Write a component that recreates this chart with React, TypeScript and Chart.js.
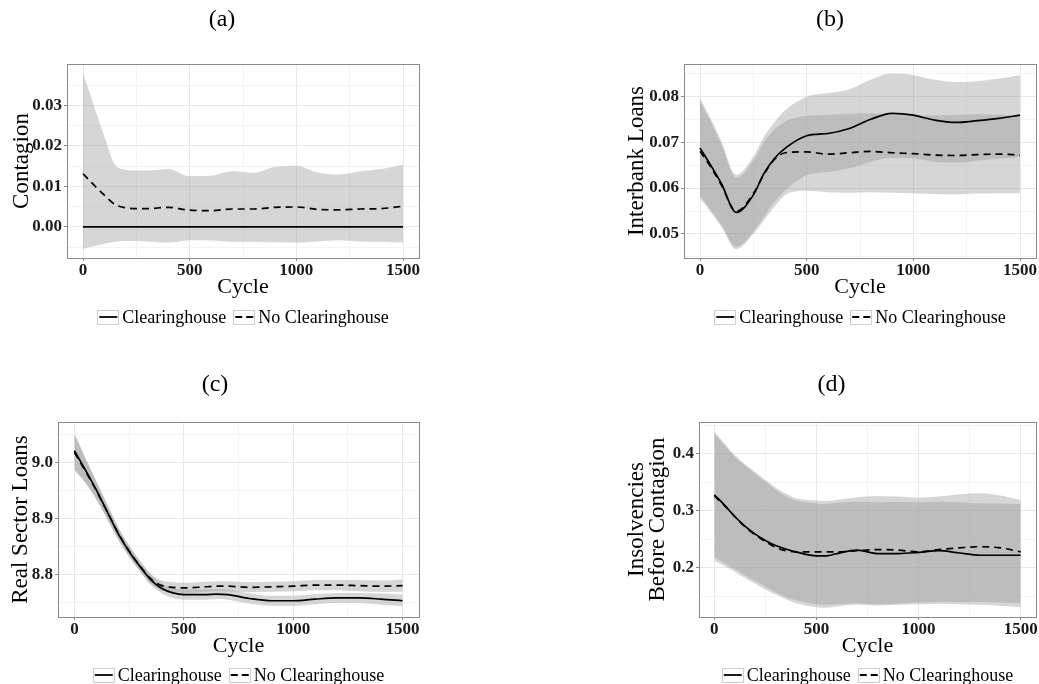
import React, { useEffect, useRef } from 'react';
import { Chart, registerables } from 'chart.js';

Chart.register(...registerables);

const FONT = "'Liberation Serif', 'Times New Roman', serif";
const RIBBON = 'rgba(153, 153, 153, 0.4)';
const GRID_MAJOR = '#E8E8E8';
const GRID_MINOR = '#F4F4F4';
const FRAME = '#8A8A8A';
const X_AXIS_H = 41;

const seriesNames = ['Clearinghouse', 'No Clearinghouse'];

// x axis (Cycle)
const xMajor = [0, 500, 1000, 1500];
const xMinor = [250, 750, 1250];
const xLabels = ['0', '500', '1000', '1500'];

// (a) Contagion
const cyclesA = [0, 50, 100, 150, 200, 250, 300, 400, 500, 600, 700, 800, 900, 1000, 1100, 1200, 1300, 1400, 1500];
const contagionCH = [0, 0, 0, 0, 0, 0, 0, 0, 0, 0, 0, 0, 0, 0, 0, 0, 0, 0, 0];
const contagionCHLow = [0, 0, 0, 0, 0, 0, 0, 0, 0, 0, 0, 0, 0, 0, 0, 0, 0, 0, 0];
const contagionCHHigh = [0, 0, 0, 0, 0, 0, 0, 0, 0, 0, 0, 0, 0, 0, 0, 0, 0, 0, 0];
const contagionNoCH = [0.0131, 0.0104, 0.0078, 0.0055, 0.0047, 0.0045, 0.0045, 0.0048, 0.0041, 0.004, 0.0044, 0.0044, 0.0048, 0.0049, 0.0043, 0.0042, 0.0044, 0.0045, 0.0051];
const contagionNoCHLow = [-0.0054, -0.0048, -0.0042, -0.0037, -0.0035, -0.0035, -0.0036, -0.0039, -0.0033, -0.0034, -0.0037, -0.0037, -0.0038, -0.0039, -0.0036, -0.0033, -0.0036, -0.0037, -0.0039];
const contagionNoCHHigh = [0.0379, 0.0301, 0.0223, 0.0153, 0.0141, 0.0139, 0.0139, 0.0143, 0.0125, 0.0126, 0.0137, 0.0133, 0.0148, 0.0151, 0.0134, 0.0129, 0.0137, 0.0143, 0.0153];
const yMajorA = [0, 0.01, 0.02, 0.03];
const yMinorA = [-0.005, 0.005, 0.015, 0.025, 0.035];
const yLabelsA = ['0.00', '0.01', '0.02', '0.03'];

// (b) Interbank Loans
const cyclesB = [0, 50, 100, 170, 250, 300, 350, 400, 500, 600, 700, 800, 900, 1000, 1100, 1200, 1300, 1400, 1500];
const interbankCH = [0.0687, 0.065, 0.061, 0.0547, 0.0585, 0.0632, 0.0665, 0.0687, 0.0714, 0.0719, 0.073, 0.075, 0.0763, 0.0759, 0.0748, 0.0743, 0.0747, 0.0752, 0.0759];
const interbankCHLow = [0.0583, 0.0553, 0.052, 0.0472, 0.0505, 0.0538, 0.057, 0.0595, 0.0628, 0.0635, 0.0643, 0.0657, 0.0666, 0.0665, 0.0657, 0.0655, 0.066, 0.0664, 0.0668];
const interbankCHHigh = [0.0796, 0.0752, 0.0702, 0.0629, 0.0669, 0.0712, 0.0744, 0.077, 0.0799, 0.0807, 0.0815, 0.0836, 0.085, 0.0846, 0.0836, 0.0831, 0.0833, 0.0839, 0.0846];
const interbankNoCH = [0.068, 0.0646, 0.0607, 0.0549, 0.0588, 0.063, 0.0663, 0.0677, 0.0679, 0.0674, 0.0677, 0.068, 0.0677, 0.0675, 0.0672, 0.0671, 0.0673, 0.0674, 0.0672];
const interbankNoCHLow = [0.0578, 0.0548, 0.0516, 0.0467, 0.05, 0.053, 0.056, 0.0585, 0.0594, 0.0591, 0.059, 0.0591, 0.059, 0.0589, 0.0587, 0.0586, 0.0588, 0.0589, 0.0589];
const interbankNoCHHigh = [0.079, 0.0745, 0.0695, 0.0622, 0.066, 0.07, 0.0728, 0.0745, 0.0757, 0.076, 0.0762, 0.0763, 0.076, 0.0758, 0.0758, 0.076, 0.0761, 0.076, 0.0758];
const yMajorB = [0.05, 0.06, 0.07, 0.08];
const yMinorB = [0.045, 0.055, 0.065, 0.075, 0.085];
const yLabelsB = ['0.05', '0.06', '0.07', '0.08'];

// (c) Real Sector Loans
const cyclesC = [0, 50, 100, 150, 200, 250, 300, 350, 400, 450, 500, 600, 650, 700, 800, 900, 1000, 1100, 1200, 1300, 1400, 1500];
const realCH = [9.021, 8.987, 8.951, 8.912, 8.873, 8.841, 8.814, 8.79, 8.775, 8.767, 8.764, 8.764, 8.765, 8.764, 8.757, 8.753, 8.753, 8.756, 8.758, 8.758, 8.756, 8.753];
const realCHLow = [8.989, 8.965, 8.935, 8.899, 8.862, 8.831, 8.805, 8.781, 8.766, 8.758, 8.755, 8.755, 8.756, 8.755, 8.748, 8.744, 8.744, 8.747, 8.749, 8.749, 8.746, 8.743];
const realCHHigh = [9.053, 9.009, 8.967, 8.925, 8.884, 8.851, 8.823, 8.799, 8.784, 8.776, 8.773, 8.773, 8.774, 8.773, 8.766, 8.762, 8.762, 8.765, 8.767, 8.767, 8.766, 8.764];
const realNoCH = [9.018, 8.985, 8.95, 8.912, 8.874, 8.842, 8.815, 8.792, 8.78, 8.777, 8.776, 8.778, 8.779, 8.779, 8.777, 8.778, 8.779, 8.781, 8.781, 8.78, 8.779, 8.78];
const realNoCHLow = [8.986, 8.963, 8.934, 8.899, 8.863, 8.832, 8.806, 8.783, 8.771, 8.768, 8.767, 8.769, 8.77, 8.77, 8.768, 8.769, 8.77, 8.772, 8.772, 8.77, 8.769, 8.769];
const realNoCHHigh = [9.05, 9.007, 8.966, 8.925, 8.885, 8.852, 8.824, 8.801, 8.789, 8.786, 8.785, 8.787, 8.788, 8.788, 8.786, 8.787, 8.788, 8.79, 8.79, 8.79, 8.789, 8.791];
const yMajorC = [8.8, 8.9, 9.0];
const yMinorC = [8.75, 8.85, 8.95, 9.05];
const yLabelsC = ['8.8', '8.9', '9.0'];

// (d) Insolvencies Before Contagion
const cyclesD = [0, 50, 100, 150, 200, 250, 300, 350, 400, 500, 550, 600, 700, 800, 900, 1000, 1100, 1200, 1300, 1400, 1500];
const insolvCH = [0.328, 0.31, 0.29, 0.273, 0.259, 0.248, 0.239, 0.233, 0.228, 0.221, 0.221, 0.225, 0.231, 0.225, 0.225, 0.227, 0.23, 0.226, 0.222, 0.222, 0.222];
const insolvCHLow = [0.213, 0.203, 0.193, 0.182, 0.172, 0.162, 0.153, 0.145, 0.138, 0.131, 0.13, 0.132, 0.135, 0.134, 0.135, 0.136, 0.137, 0.136, 0.135, 0.133, 0.131];
const insolvCHHigh = [0.436, 0.415, 0.395, 0.379, 0.365, 0.351, 0.337, 0.325, 0.318, 0.313, 0.312, 0.314, 0.316, 0.315, 0.316, 0.315, 0.316, 0.315, 0.313, 0.313, 0.312];
const insolvNoCH = [0.326, 0.309, 0.29, 0.272, 0.258, 0.246, 0.236, 0.23, 0.228, 0.228, 0.228, 0.228, 0.23, 0.232, 0.231, 0.228, 0.232, 0.235, 0.237, 0.235, 0.228];
const insolvNoCHLow = [0.219, 0.208, 0.198, 0.187, 0.177, 0.167, 0.157, 0.149, 0.143, 0.136, 0.135, 0.136, 0.138, 0.136, 0.137, 0.139, 0.14, 0.14, 0.14, 0.139, 0.138];
const insolvNoCHHigh = [0.439, 0.418, 0.398, 0.382, 0.368, 0.354, 0.341, 0.33, 0.322, 0.318, 0.317, 0.319, 0.324, 0.326, 0.325, 0.323, 0.325, 0.329, 0.331, 0.327, 0.319];
const yMajorD = [0.2, 0.3, 0.4];
const yMinorD = [0.15, 0.25, 0.35, 0.45];
const yLabelsD = ['0.2', '0.3', '0.4'];

// draws panel border, the (a)/(b) tag and the ggplot-like legend
const framePlugin = {
  id: 'frame',
  afterDraw(chart: any, _args: any, opts: any) {
    const { ctx, chartArea: a } = chart;
    ctx.save();
    ctx.strokeStyle = FRAME;
    ctx.lineWidth = 1;
    ctx.strokeRect(Math.round(a.left) + 0.5, Math.round(a.top) + 0.5, Math.round(a.right - a.left), Math.round(a.bottom - a.top));

    ctx.fillStyle = '#000';
    ctx.textBaseline = 'middle';
    ctx.textAlign = 'center';
    ctx.font = `24px ${FONT}`;
    ctx.fillText(opts.tag, chart.width / 2, opts.tagY);

    ctx.font = `18px ${FONT}`;
    const box = 22;
    const boxH = 15;
    const widths = seriesNames.map((n) => ctx.measureText(n).width);
    const total = box * 2 + 3 * 2 + widths[0] + widths[1] + 7;
    let x = (a.left + a.right) / 2 - total / 2;
    const y = opts.legendY;
    seriesNames.forEach((name, i) => {
      ctx.setLineDash([]);
      ctx.strokeStyle = '#CFCFCF';
      ctx.lineWidth = 1;
      ctx.strokeRect(Math.round(x) + 0.5, Math.round(y - boxH / 2) + 0.5, box - 1, boxH - 1);
      ctx.beginPath();
      ctx.setLineDash(i === 1 ? [7, 4] : []);
      ctx.strokeStyle = '#000';
      ctx.lineWidth = 1.8;
      ctx.moveTo(x + 2, y);
      ctx.lineTo(x + box - 2, y);
      ctx.stroke();
      ctx.setLineDash([]);
      ctx.textAlign = 'left';
      ctx.fillText(name, x + box + 3, y + 1);
      x += box + 3 + widths[i] + 7;
    });
    ctx.restore();
  },
};

interface PanelProps {
  tag: string;
  yTitle: string | string[];
  cycles: number[];
  ch: number[];
  chLow: number[];
  chHigh: number[];
  noch: number[];
  nochLow: number[];
  nochHigh: number[];
  yMin: number;
  yMax: number;
  yMajor: number[];
  yMinor: number[];
  yLabels: string[];
  left: number;
  top: number;
  width: number;
  height: number;
  plot: { l: number; t: number; r: number; b: number };
  yTitlePad: number;
  yTitleLineHeight: number;
  tagY: number;
  legendY: number;
}

const Panel: React.FC<PanelProps> = (p) => {
  const canvasRef = useRef<HTMLCanvasElement>(null);

  useEffect(() => {
    if (!canvasRef.current) return;
    const pts = (ys: number[]) => p.cycles.map((x, i) => ({ x, y: ys[i] }));
    const hidden = 'rgba(0,0,0,0)';
    const band = (ys: number[], fill: any) => ({
      label: '',
      data: pts(ys),
      borderColor: hidden,
      borderWidth: 0,
      pointRadius: 0,
      backgroundColor: RIBBON,
      fill,
      order: 1,
    });
    const buildTicks = (major: number[], minor: number[]) => (scale: any) => {
      scale.ticks = [
        ...major.map((v) => ({ value: v, major: true })),
        ...minor.map((v) => ({ value: v, major: false })),
      ].sort((u, v) => u.value - v.value);
    };
    const grid = {
      color: (c: any) => (c.tick && c.tick.major ? GRID_MAJOR : GRID_MINOR),
      tickColor: (c: any) => (c.tick && c.tick.major ? FRAME : 'rgba(0,0,0,0)'),
      tickLength: 3,
      lineWidth: 1,
    };
    const tickFont = { family: FONT, size: 17, weight: 'bold' as const, lineHeight: 1.1 };

    const chart = new Chart(canvasRef.current, {
      type: 'line',
      data: {
        datasets: [
          { label: seriesNames[0], data: pts(p.ch), borderColor: '#000', borderWidth: 1.7, pointRadius: 0, fill: false, order: 0 },
          { label: seriesNames[1], data: pts(p.noch), borderColor: '#000', borderWidth: 1.7, borderDash: [7, 5], pointRadius: 0, fill: false, order: 0 },
          band(p.chLow, false),
          band(p.chHigh, 2),
          band(p.nochLow, false),
          band(p.nochHigh, 4),
        ] as any,
      },
      options: {
        responsive: false,
        animation: false,
        events: [],
        layout: {
          padding: { left: 0, top: p.plot.t, right: p.width - p.plot.r, bottom: p.height - p.plot.b - X_AXIS_H },
        },
        elements: { line: { cubicInterpolationMode: 'monotone' }, point: { radius: 0 } },
        plugins: {
          legend: { display: false },
          tooltip: { enabled: false },
          frame: { tag: p.tag, tagY: p.tagY, legendY: p.legendY },
        } as any,
        scales: {
          x: {
            type: 'linear',
            min: -75,
            max: 1575,
            afterFit: (s: any) => {
              s.height = X_AXIS_H;
            },
            afterBuildTicks: buildTicks(xMajor, xMinor),
            grid,
            border: { display: false },
            ticks: {
              autoSkip: false,
              maxRotation: 0,
              padding: 0,
              color: '#1a1a1a',
              font: tickFont,
              callback: (v: any) => {
                const i = xMajor.indexOf(v);
                return i >= 0 ? xLabels[i] : '';
              },
            },
            title: {
              display: true,
              text: 'Cycle',
              color: '#000',
              padding: { top: 0, bottom: 0 },
              font: { family: FONT, size: 22, lineHeight: 1.1 },
            },
          },
          y: {
            type: 'linear',
            min: p.yMin,
            max: p.yMax,
            afterFit: (s: any) => {
              s.width = p.plot.l;
            },
            afterBuildTicks: buildTicks(p.yMajor, p.yMinor),
            grid,
            border: { display: false },
            ticks: {
              autoSkip: false,
              padding: 2,
              color: '#1a1a1a',
              font: tickFont,
              callback: (v: any) => {
                const i = p.yMajor.indexOf(v);
                return i >= 0 ? p.yLabels[i] : '';
              },
            },
            title: {
              display: true,
              text: p.yTitle,
              color: '#000',
              padding: { top: p.yTitlePad, bottom: 0 },
              font: { family: FONT, size: 23, lineHeight: p.yTitleLineHeight },
            },
          },
        },
      },
      plugins: [framePlugin as any],
    });

    return () => {
      chart.destroy();
    };
  }, []);

  return (
    <canvas
      ref={canvasRef}
      width={p.width}
      height={p.height}
      style={{ position: 'absolute', left: p.left, top: p.top, width: p.width, height: p.height }}
    />
  );
};

export default function App() {
  return (
    <div style={{ position: 'absolute', left: 0, top: 0, width: 1039, height: 684, background: '#fff', overflow: 'hidden' }}>
      <Panel
        tag="(a)"
        yTitle="Contagion"
        cycles={cyclesA}
        ch={contagionCH}
        chLow={contagionCHLow}
        chHigh={contagionCHHigh}
        noch={contagionNoCH}
        nochLow={contagionNoCHLow}
        nochHigh={contagionNoCHHigh}
        yMin={-0.0077}
        yMax={0.0402}
        yMajor={yMajorA}
        yMinor={yMinorA}
        yLabels={yLabelsA}
        left={0}
        top={0}
        width={444}
        height={342}
        plot={{ l: 67, t: 64, r: 419, b: 258 }}
        yTitlePad={8}
        yTitleLineHeight={1.2}
        tagY={20}
        legendY={317}
      />
      <Panel
        tag="(b)"
        yTitle="Interbank Loans"
        cycles={cyclesB}
        ch={interbankCH}
        chLow={interbankCHLow}
        chHigh={interbankCHHigh}
        noch={interbankNoCH}
        nochLow={interbankNoCHLow}
        nochHigh={interbankNoCHHigh}
        yMin={0.04477}
        yMax={0.08704}
        yMajor={yMajorB}
        yMinor={yMinorB}
        yLabels={yLabelsB}
        left={621}
        top={0}
        width={418}
        height={342}
        plot={{ l: 63, t: 64, r: 415, b: 258 }}
        yTitlePad={2}
        yTitleLineHeight={1.2}
        tagY={20}
        legendY={317}
      />
      <Panel
        tag="(c)"
        yTitle="Real Sector Loans"
        cycles={cyclesC}
        ch={realCH}
        chLow={realCHLow}
        chHigh={realCHHigh}
        noch={realNoCH}
        nochLow={realNoCHLow}
        nochHigh={realNoCHHigh}
        yMin={8.724}
        yMax={9.0724}
        yMajor={yMajorC}
        yMinor={yMinorC}
        yLabels={yLabelsC}
        left={0}
        top={342}
        width={430}
        height={342}
        plot={{ l: 58, t: 80, r: 419, b: 275 }}
        yTitlePad={7}
        yTitleLineHeight={1.2}
        tagY={43}
        legendY={333}
      />
      <Panel
        tag="(d)"
        yTitle={['Insolvencies', 'Before Contagion']}
        cycles={cyclesD}
        ch={insolvCH}
        chLow={insolvCHLow}
        chHigh={insolvCHHigh}
        noch={insolvNoCH}
        nochLow={insolvNoCHLow}
        nochHigh={insolvNoCHHigh}
        yMin={0.1137}
        yMax={0.4558}
        yMajor={yMajorD}
        yMinor={yMinorD}
        yLabels={yLabelsD}
        left={624}
        top={342}
        width={415}
        height={342}
        plot={{ l: 75, t: 80, r: 412, b: 275 }}
        yTitlePad={2}
        yTitleLineHeight={0.92}
        tagY={43}
        legendY={333}
      />
    </div>
  );
}
